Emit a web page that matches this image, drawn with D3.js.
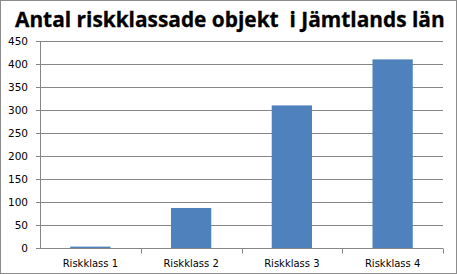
<!DOCTYPE html>
<html>
<head>
<meta charset="utf-8">
<script src="https://cdn.jsdelivr.net/npm/d3@7"></script>
<style>
body { margin: 0; background: #fff; }
svg { display: block; }
</style>
</head>
<body>
<div id="chart"></div>
<script>
var title = "Antal riskklassade objekt  i Jämtlands län";
var categories = ["Riskklass 1", "Riskklass 2", "Riskklass 3", "Riskklass 4"];
var counts = [3, 87, 310, 410];
var yTicks = [0, 50, 100, 150, 200, 250, 300, 350, 400, 450];

var data = categories.map(function(c, i) { return {name: c, value: counts[i]}; });

var width = 457, height = 274;
var margin = {top: 41, right: 14, bottom: 26, left: 40};

var svg = d3.select("#chart").append("svg")
  .attr("width", width)
  .attr("height", height);

// outer frame
svg.append("rect")
  .attr("x", 0.5).attr("y", 0.5)
  .attr("width", width - 1).attr("height", height - 1)
  .attr("fill", "#fff")
  .attr("stroke", "#8c8c8c");

var t = svg.append("text")
  .attr("x", 15).attr("y", 27)
  .style("white-space", "pre")
  .style("font-family", "Open Sans, sans-serif")
  .style("font-weight", "bold")
  .style("font-size", "21px")
  .attr("stroke", "#000")
  .attr("stroke-width", 0.3)
  .text(title);
// shrink the font if the title is wider than the space it has
var tw = t.node().getComputedTextLength();
if (tw > 430) t.style("font-size", (21 * 430 / tw) + "px");

var x = d3.scaleBand()
  .domain(categories)
  .range([margin.left, width - margin.right])
  .paddingInner(0.6)
  .paddingOuter(0.3);

var xb = d3.scaleBand()
  .domain(categories)
  .range([margin.left, width - margin.right]);

var y = d3.scaleLinear()
  .domain([0, 450])
  .range([height - margin.bottom, margin.top]);

// y axis
svg.append("g")
  .attr("transform", `translate(${margin.left},0)`)
  .call(d3.axisLeft(y).tickValues(yTicks).tickSize(4).tickPadding(8))
  .call(g => g.select(".domain").attr("stroke", "#868686"))
  .call(g => g.selectAll(".tick line").attr("stroke", "#868686"))
  .call(g => g.selectAll(".tick text")
    .style("font-family", "DejaVu Sans, Verdana, sans-serif")
    .style("font-size", "10.5px")
    .attr("fill", "#000"));

// gridlines
svg.append("g")
  .selectAll("line")
  .data(yTicks.filter(d => d > 0))
  .enter().append("line")
  .attr("x1", margin.left).attr("x2", width - margin.right)
  .attr("y1", d => Math.round(y(d)) + 0.5).attr("y2", d => Math.round(y(d)) + 0.5)
  .attr("stroke", "#868686");

svg.append("g")
  .attr("fill", "#4f81bd")
  .selectAll("rect")
  .data(data)
  .enter().append("rect")
  .attr("x", d => x(d.name))
  .attr("y", d => y(d.value))
  .attr("height", d => y(0) - y(d.value))
  .attr("width", x.bandwidth());

// x axis: ticks at category boundaries
var xg = svg.append("g")
  .attr("transform", `translate(0,${Math.round(y(0)) + 0.5})`);
xg.append("line")
  .attr("x1", margin.left).attr("x2", width - margin.right)
  .attr("stroke", "#868686");
xg.selectAll("line.tk")
  .data(categories)
  .enter().append("line")
  .attr("class", "tk")
  .attr("x1", d => Math.round(xb(d) + xb.step()) + 0.5)
  .attr("x2", d => Math.round(xb(d) + xb.step()) + 0.5)
  .attr("y1", 0).attr("y2", 5)
  .attr("stroke", "#868686");
xg.selectAll("text")
  .data(categories)
  .enter().append("text")
  .attr("x", d => xb(d) + xb.bandwidth() / 2)
  .attr("y", 18)
  .attr("text-anchor", "middle")
  .style("font-family", "DejaVu Sans, Verdana, sans-serif")
  .style("font-size", "10px")
  .text(d => d);
</script>
</body>
</html>
